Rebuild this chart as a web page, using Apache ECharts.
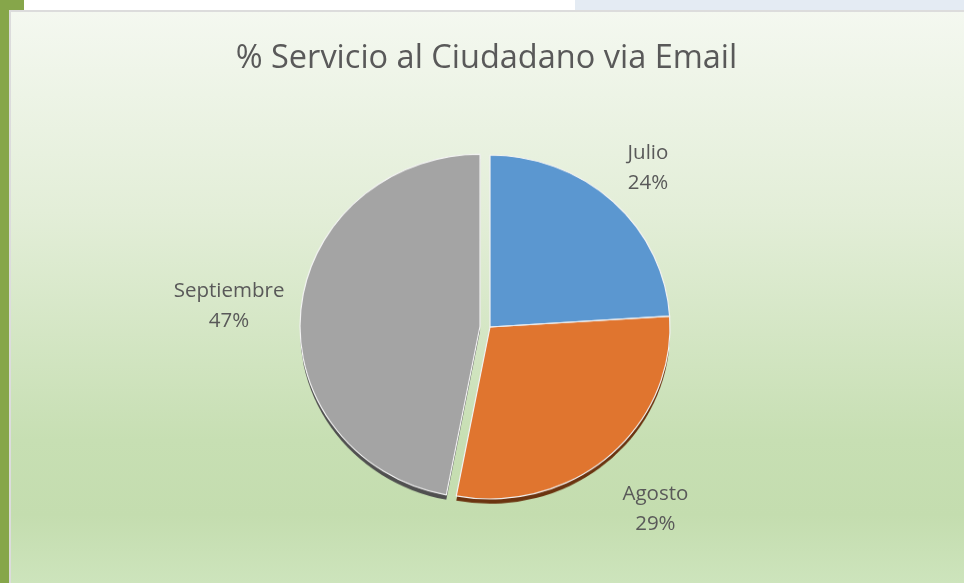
<!DOCTYPE html>
<html>
<head>
<meta charset="utf-8">
<script src="https://cdn.jsdelivr.net/npm/echarts@6/dist/echarts.min.js"></script>
<style>
  html, body { margin: 0; padding: 0; width: 964px; height: 583px; overflow: hidden; background: #fff; }
  .top-blue { position: absolute; left: 575px; top: 0; width: 389px; height: 10px; background: #e4ebf3; }
  .strip { position: absolute; left: 0; top: 0; width: 24px; height: 10px; background: #86a64a; }
  .strip2 { position: absolute; left: 0; top: 0; width: 9px; height: 583px; background: #86a64a; }
  .layer { position: absolute; left: 9px; top: 10px; width: 955px; height: 573px; }
  #bg {
    box-sizing: border-box; border-top: 2px solid #dcdcdc; border-left: 2px solid #dcdcdc;
    background: linear-gradient(to bottom, #f4f8f0 0%, #e3eed8 35%, #c7dfb3 75%, #c4ddaf 88%, #cde4bc 100%);
  }
  /* the Excel pie is seen slightly from above, so squash it a little */
  #pie { transform: scaleY(0.955); transform-origin: 481px 317px; }
</style>
</head>
<body>
<div class="top-blue"></div>
<div class="strip"></div>
<div class="strip2"></div>
<div id="bg" class="layer"></div>
<div id="pie" class="layer"></div>
<div id="text" class="layer"></div>
<script>
const title = '% Servicio al Ciudadano via Email'
const months = ['Julio', 'Agosto', 'Septiembre']
const percents = [24, 29, 47]
const colors = ['#5b97d0', '#e0752f', '#a4a4a4']
const depth = ['rgba(0,0,0,0)', '#6b3410', '#505050']

const center = [481, 317]
const textColor = '#595959'
// small per-label shifts, Excel "best fit" does not sit on a perfect ring
const labelNudge = { Julio: [-7, 17], Agosto: [6, 1], Septiembre: [-21, 2] }

const pieChart = echarts.init(document.getElementById('pie'))
const textChart = echarts.init(document.getElementById('text'))

const pieBase = {
  type: 'pie',
  center: center,
  radius: 180,
  startAngle: 90,
  selectedMode: 'multiple',
  selectedOffset: 10,
  silent: true,
  animation: false,
  label: { show: false },
  labelLine: { show: false }
}

pieChart.setOption({
  series: [
    Object.assign({}, pieBase, {
      // filled slices with a little depth underneath
      data: months.map((m, i) => ({
        name: m,
        value: percents[i],
        selected: m === 'Septiembre',
        itemStyle: {
          color: colors[i],
          borderWidth: 0,
          shadowColor: depth[i],
          shadowOffsetY: 5,
          shadowBlur: 0
        }
      }))
    }),
    Object.assign({}, pieBase, {
      // thin light edges drawn on top, without shadow
      itemStyle: { color: 'rgba(0,0,0,0)', borderColor: '#f2f2f2', borderWidth: 1.2 },
      data: months.map((m, i) => ({ name: m, value: percents[i], selected: m === 'Septiembre' }))
    })
  ]
})

textChart.setOption({
  title: {
    text: title,
    left: 'center',
    top: 27,
    textStyle: { fontFamily: 'Open Sans', fontSize: 32.5, fontWeight: 'normal', color: textColor }
  },
  series: [{
    // invisible ring used only to place the centred labels
    type: 'pie',
    center: center,
    radius: [220, 256],
    startAngle: 90,
    silent: true,
    animation: false,
    itemStyle: { color: 'rgba(0,0,0,0)' },
    labelLine: { show: false },
    label: {
      show: true,
      position: 'inside',
      formatter: '{b}\n{c}%',
      fontFamily: 'Open Sans',
      fontSize: 20.5,
      lineHeight: 30,
      color: textColor
    },
    labelLayout: function (params) {
      const n = labelNudge[months[params.dataIndex]]
      return { dx: n[0], dy: n[1] }
    },
    data: months.map((m, i) => ({ name: m, value: percents[i] }))
  }]
})
</script>
</body>
</html>
